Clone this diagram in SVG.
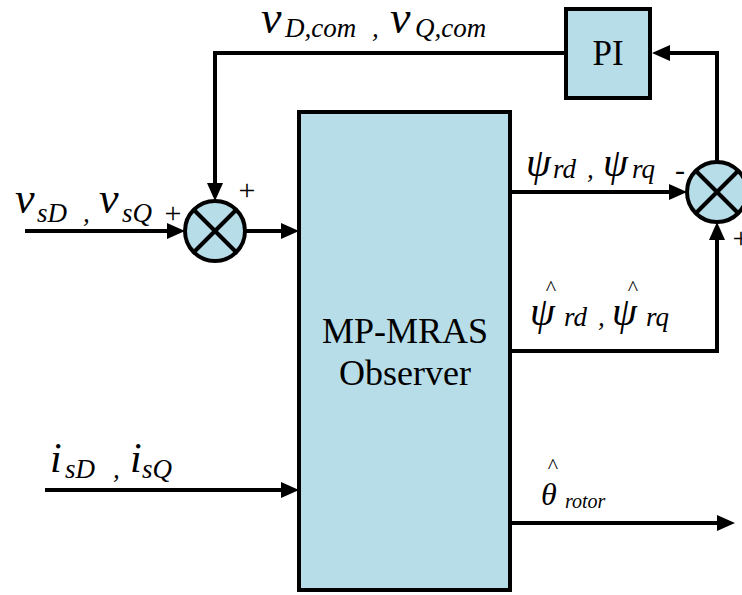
<svg xmlns="http://www.w3.org/2000/svg" width="742" height="595" viewBox="0 0 742 595">
<style>
.blk{fill:#B7DDE8;stroke:#000;stroke-width:4}
.ln{fill:none;stroke:#000;stroke-width:4;stroke-linejoin:miter}
.x{stroke:#000;stroke-width:4}
.t{font-family:"Liberation Serif","Times New Roman",serif;fill:#000}
.i{font-family:"Liberation Serif","Times New Roman",serif;font-style:italic;fill:#000}
.pm{font-family:"Liberation Serif","Times New Roman",serif;font-size:30px;text-anchor:middle;fill:#000}
</style>
<defs>
<marker id="arr" markerWidth="18" markerHeight="16" refX="8" refY="8" orient="auto" markerUnits="userSpaceOnUse">
<path d="M0,0 L18,8 L0,16 z" fill="#000"/>
</marker>
</defs>
<rect width="742" height="595" fill="#fff"/>
<g id="connectors">
<path class="ln" d="M25,231 H175" marker-end="url(#arr)"/>
<path class="ln" d="M245,231 H289" marker-end="url(#arr)"/>
<path class="ln" d="M717,162 V53 H662" marker-end="url(#arr)"/>
<path class="ln" d="M566,53 H215 V191" marker-end="url(#arr)"/>
<path class="ln" d="M510,192 H677" marker-end="url(#arr)"/>
<path class="ln" d="M510,351 H717 V232" marker-end="url(#arr)"/>
<path class="ln" d="M45,490 H289" marker-end="url(#arr)"/>
<path class="ln" d="M510,523 H725" marker-end="url(#arr)"/>
</g>
<g id="observer">
<rect class="blk" x="299" y="112" width="211" height="478"/>
<text class="t" x="405" y="343" font-size="36" text-anchor="middle">MP-MRAS</text>
<text class="t" x="405" y="385" font-size="36" text-anchor="middle">Observer</text>
</g>
<g id="pi">
<rect class="blk" x="566" y="9" width="84" height="89"/>
<text class="t" x="608" y="65" font-size="35" text-anchor="middle">PI</text>
</g>
<g id="sum1">
<circle class="blk" cx="215" cy="231" r="30"/>
<line class="x" x1="194" y1="210" x2="236" y2="252"/>
<line class="x" x1="236" y1="210" x2="194" y2="252"/>
<text class="pm" x="247" y="200">+</text>
<text class="pm" x="173" y="223">+</text>
</g>
<g id="sum2">
<circle class="blk" cx="717" cy="192" r="30"/>
<line class="x" x1="696" y1="171" x2="738" y2="213"/>
<line class="x" x1="738" y1="171" x2="696" y2="213"/>
<text class="pm" x="680" y="180">-</text>
<text class="pm" x="741" y="248">+</text>
</g>
<g id="labels">
<text class="i" x="261" y="33" font-size="46">v</text>
<text class="i" x="285" y="37" font-size="27">D,com</text>
<text class="i" x="372" y="37" font-size="27">,</text>
<text class="i" x="390" y="33" font-size="46">v</text>
<text class="i" x="415" y="37" font-size="27">Q,com</text>

<text class="i" x="15" y="213" font-size="44">v</text>
<text class="i" x="37" y="222" font-size="27">sD</text>
<text class="i" x="83" y="222" font-size="27">,</text>
<text class="i" x="99" y="213" font-size="44">v</text>
<text class="i" x="122" y="222" font-size="27">sQ</text>

<text class="i" x="50" y="472" font-size="42">i</text>
<text class="i" x="65" y="478" font-size="27">sD</text>
<text class="i" x="113" y="478" font-size="27">,</text>
<text class="i" x="130" y="472" font-size="42">i</text>
<text class="i" x="142" y="478" font-size="27">sQ</text>

<text class="i" x="526" y="176" font-size="40">ψ</text>
<text class="i" x="553" y="178" font-size="27">rd</text>
<text class="i" x="587" y="178" font-size="27">,</text>
<text class="i" x="603" y="176" font-size="40">ψ</text>
<text class="i" x="632" y="178" font-size="27">rq</text>

<text class="t" x="551" y="295" font-size="22" text-anchor="middle">^</text>
<text class="i" x="530" y="325" font-size="40">ψ</text>
<text class="i" x="564" y="326" font-size="27">rd</text>
<text class="i" x="598" y="326" font-size="27">,</text>
<text class="t" x="633" y="295" font-size="22" text-anchor="middle">^</text>
<text class="i" x="612" y="325" font-size="40">ψ</text>
<text class="i" x="646" y="326" font-size="27">rq</text>

<text class="t" x="553" y="473" font-size="22" text-anchor="middle">^</text>
<text class="i" x="541" y="505" font-size="32">θ</text>
<text class="i" x="565" y="508" font-size="20">rotor</text>
</g>
</svg>
